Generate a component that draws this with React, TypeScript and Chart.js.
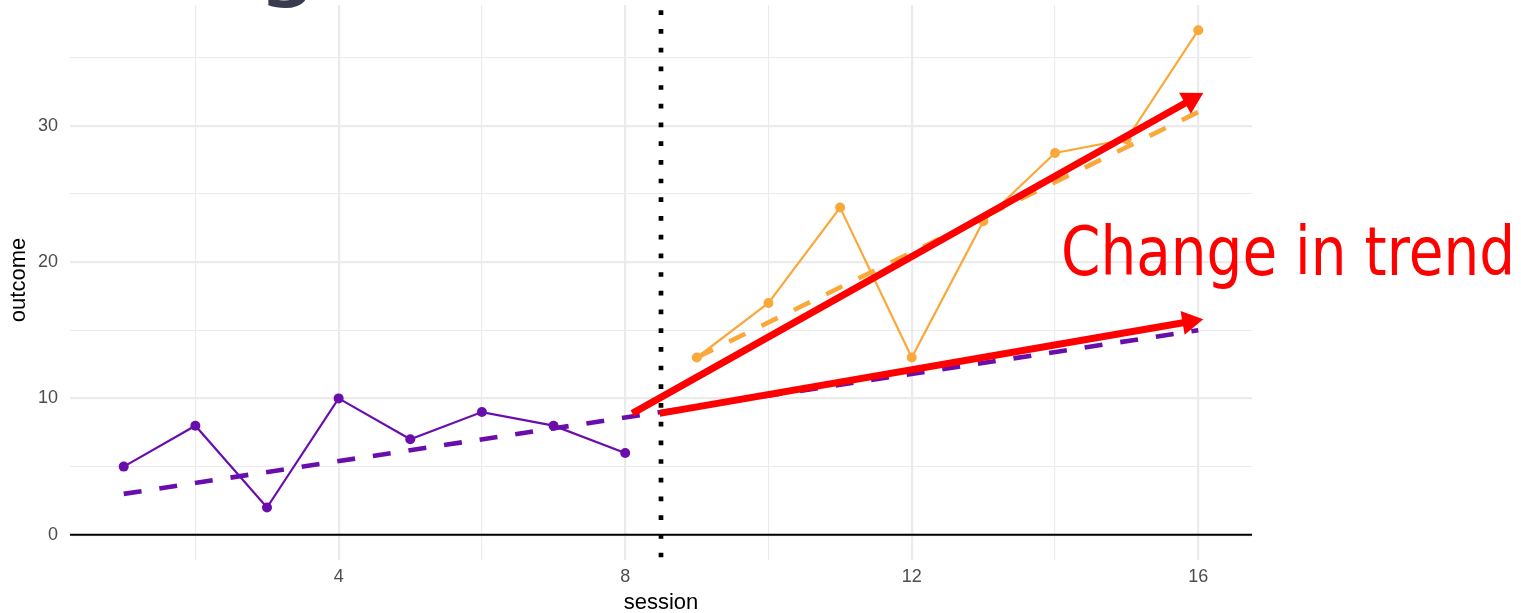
import React, { useEffect, useRef } from "react";
import { Chart, registerables } from "chart.js";

Chart.register(...registerables);

// ---- data ----
const baselineSessions = [1, 2, 3, 4, 5, 6, 7, 8];
const baselineOutcome = [5, 8, 2, 10, 7, 9, 8, 6];
const treatmentSessions = [9, 10, 11, 12, 13, 14, 15, 16];
const treatmentOutcome = [13, 17, 24, 13, 23, 28, 29, 37];

const baselineTrendX = [1, 16];
const baselineTrendY = [3, 15];
const treatmentTrendX = [9, 16];
const treatmentTrendY = [13, 31];

const arrowNewTrendX = [8.1, 16.07];
const arrowNewTrendY = [8.9, 32.4];
const arrowOldTrendX = [8.48, 16.07];
const arrowOldTrendY = [8.9, 15.8];

const phaseChangeX = 8.5;
const zeroLineY = 0;

const xRange = [0.25, 16.75];
const yRange = [-1.85, 38.85];
const xTicks = [2, 4, 6, 8, 10, 12, 14, 16];
const xLabelTicks = [4, 8, 12, 16];
const yTicks = [0, 5, 10, 15, 20, 25, 30, 35];
const yLabelTicks = [0, 10, 20, 30];

const annotationText = "Change in trend";
const xTitle = "session";
const yTitle = "outcome";
const titleFragment = "g";

const PURPLE = "#6A0DAD";
const ORANGE = "#FBA83A";
const RED = "#FF0000";
const GRID = "#EBEBEB";
const TICK = "#4D4D4D";

const pts = (xs: number[], ys: number[]) => xs.map((x, i) => ({ x, y: ys[i] }));

function drawArrow(ctx: CanvasRenderingContext2D, x1: number, y1: number, x2: number, y2: number) {
  const ang = Math.atan2(y2 - y1, x2 - x1);
  const c = Math.cos(ang), s = Math.sin(ang);
  const headLen = 21, headHalf = 12;
  const bx = x2 - headLen * c, by = y2 - headLen * s;
  ctx.strokeStyle = RED;
  ctx.fillStyle = RED;
  ctx.lineWidth = 7;
  ctx.lineCap = "butt";
  ctx.setLineDash([]);
  ctx.beginPath();
  ctx.moveTo(x1, y1);
  ctx.lineTo(bx + 2 * c, by + 2 * s);
  ctx.stroke();
  ctx.beginPath();
  ctx.moveTo(x2, y2);
  ctx.lineTo(bx - headHalf * s, by + headHalf * c);
  ctx.lineTo(bx + headHalf * s, by - headHalf * c);
  ctx.closePath();
  ctx.fill();
}

const overlayPlugin = {
  id: "overlay",
  beforeDatasetsDraw(chart: any) {
    const { ctx, chartArea: a, scales } = chart;
    const x = scales.x, y = scales.y;
    ctx.save();
    const y0 = y.getPixelForValue(zeroLineY);
    ctx.strokeStyle = "#000";
    ctx.lineWidth = 2.2;
    ctx.beginPath();
    ctx.moveTo(a.left, y0);
    ctx.lineTo(a.right, y0);
    ctx.stroke();
    const xp = x.getPixelForValue(phaseChangeX);
    ctx.setLineDash([4.7, 14]);
    ctx.lineDashOffset = 13.35;
    ctx.lineWidth = 4.7;
    ctx.lineCap = "butt";
    ctx.beginPath();
    ctx.moveTo(xp, a.top);
    ctx.lineTo(xp, a.bottom);
    ctx.stroke();
    ctx.restore();
  },
  afterDatasetsDraw(chart: any) {
    const { ctx, chartArea: a, scales } = chart;
    const x = scales.x, y = scales.y;
    ctx.save();
    drawArrow(
      ctx,
      x.getPixelForValue(arrowOldTrendX[0]), y.getPixelForValue(arrowOldTrendY[0]),
      x.getPixelForValue(arrowOldTrendX[1]), y.getPixelForValue(arrowOldTrendY[1])
    );
    drawArrow(
      ctx,
      x.getPixelForValue(arrowNewTrendX[0]), y.getPixelForValue(arrowNewTrendY[0]),
      x.getPixelForValue(arrowNewTrendX[1]), y.getPixelForValue(arrowNewTrendY[1])
    );

    // annotation text
    ctx.font = '67px "DejaVu Sans"';
    ctx.fillStyle = RED;
    ctx.textAlign = "left";
    ctx.textBaseline = "alphabetic";
    const w = ctx.measureText(annotationText).width;
    ctx.save();
    ctx.translate(1061, 275);
    ctx.scale(454 / w, 1);
    ctx.fillText(annotationText, 0, 0);
    ctx.restore();

    // axis titles
    ctx.fillStyle = "#000";
    ctx.font = '22px "Liberation Sans", Arial, sans-serif';
    ctx.textAlign = "center";
    ctx.textBaseline = "alphabetic";
    ctx.fillText(xTitle, (a.left + a.right) / 2, 609);
    ctx.save();
    ctx.translate(25, 280);
    ctx.rotate(-Math.PI / 2);
    ctx.fillText(yTitle, 0, 0);
    ctx.restore();

    // fragment of slide title above
    ctx.fillStyle = "#3A3A4F";
    ctx.font = '100px "DejaVu Sans"';
    ctx.textAlign = "center";
    ctx.fillText(titleFragment, 288, -13.5);
    ctx.restore();
  },
};

export default function App() {
  const ref = useRef<HTMLCanvasElement | null>(null);
  useEffect(() => {
    if (!ref.current) return;
    const chart = new Chart(ref.current, {
      type: "scatter",
      data: {
        datasets: [
          {
            data: pts(baselineTrendX, baselineTrendY),
            showLine: true,
            borderColor: PURPLE,
            borderWidth: 4.6,
            borderDash: [18, 18],
            borderCapStyle: "butt",
            pointRadius: 0,
          },
          {
            data: pts(treatmentTrendX, treatmentTrendY),
            showLine: true,
            borderColor: ORANGE,
            borderWidth: 4.6,
            borderDash: [18, 18],
            borderCapStyle: "butt",
            pointRadius: 0,
          },
          {
            data: pts(baselineSessions, baselineOutcome),
            showLine: true,
            borderColor: PURPLE,
            borderWidth: 2.2,
            pointRadius: 5,
            pointBackgroundColor: PURPLE,
            pointBorderWidth: 0,
          },
          {
            data: pts(treatmentSessions, treatmentOutcome),
            showLine: true,
            borderColor: ORANGE,
            borderWidth: 2.2,
            pointRadius: 5,
            pointBackgroundColor: ORANGE,
            pointBorderWidth: 0,
          },
        ],
      } as any,
      options: {
        animation: false,
        responsive: false,
        layout: { padding: { top: 5, right: 269, left: 0, bottom: 0 } },
        plugins: { legend: { display: false }, tooltip: { enabled: false } },
        scales: {
          x: {
            type: "linear",
            min: xRange[0],
            max: xRange[1],
            border: { display: false },
            grid: {
              color: GRID,
              drawTicks: false,
              lineWidth: (c: any) => (c.tick && xLabelTicks.includes(c.tick.value) ? 2.2 : 1.1),
            },
            ticks: {
              autoSkip: false,
              maxRotation: 0,
              padding: 6,
              color: TICK,
              font: { family: '"Liberation Sans", Arial, sans-serif', size: 18 },
              callback: (v: any) => (xLabelTicks.includes(Number(v)) ? String(v) : ""),
            },
            afterBuildTicks: (s: any) => {
              s.ticks = xTicks.map((v) => ({ value: v }));
            },
            afterFit: (s: any) => {
              s.height = 53;
              s.paddingLeft = 0;
              s.paddingRight = 0;
            },
          },
          y: {
            type: "linear",
            min: yRange[0],
            max: yRange[1],
            border: { display: false },
            grid: {
              color: GRID,
              drawTicks: false,
              lineWidth: (c: any) => (c.tick && yLabelTicks.includes(c.tick.value) ? 2.2 : 1.1),
            },
            ticks: {
              autoSkip: false,
              padding: 12,
              color: TICK,
              font: { family: '"Liberation Sans", Arial, sans-serif', size: 18 },
              callback: (v: any) => (yLabelTicks.includes(Number(v)) ? String(v) : ""),
            },
            afterBuildTicks: (s: any) => {
              s.ticks = yTicks.map((v) => ({ value: v }));
            },
            afterFit: (s: any) => {
              s.width = 70;
              s.paddingTop = 0;
              s.paddingBottom = 0;
            },
          },
        },
      } as any,
      plugins: [overlayPlugin],
    });
    return () => chart.destroy();
  }, []);
  return (
    <canvas
      ref={ref}
      width={1521}
      height={613}
      style={{ position: "absolute", left: 0, top: 0, display: "block" }}
    />
  );
}
